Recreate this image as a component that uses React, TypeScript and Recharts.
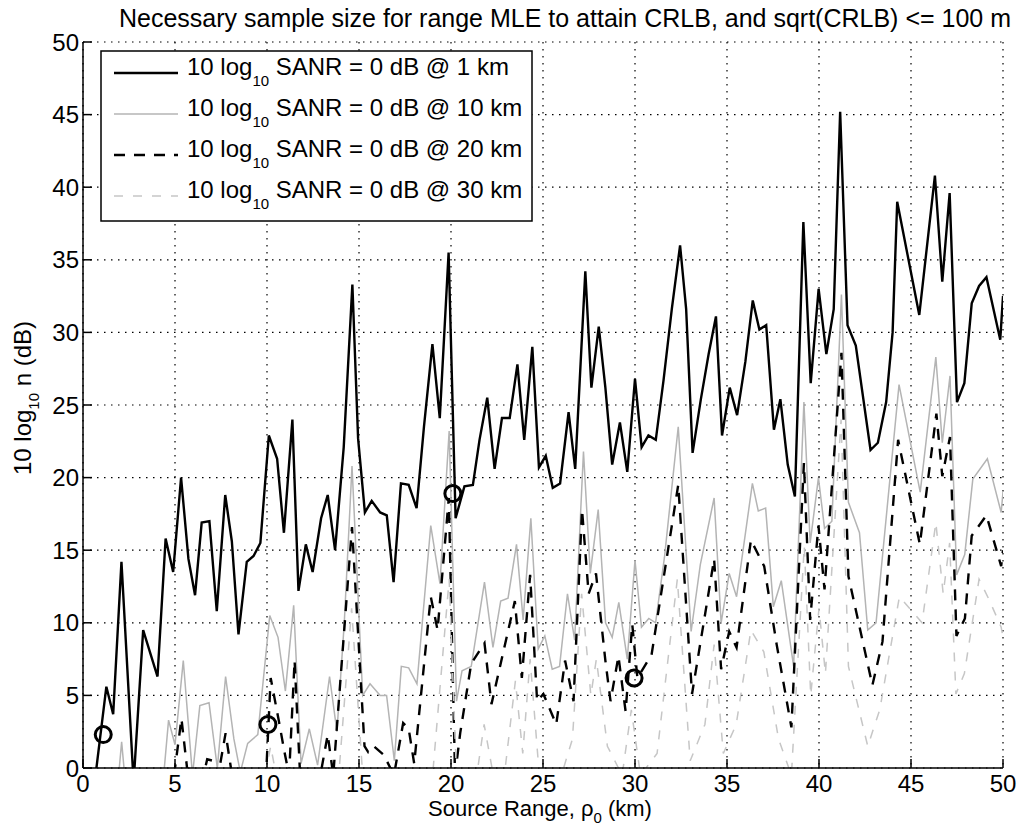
import React from "react";
import { ComposedChart, Line, Scatter, XAxis, YAxis, CartesianGrid } from "recharts";

const FONT = '"Liberation Sans", Arial, Helvetica, sans-serif';

const X_TICKS = [0, 5, 10, 15, 20, 25, 30, 35, 40, 45, 50];
const Y_TICKS = [0, 5, 10, 15, 20, 25, 30, 35, 40, 45, 50];

// SANR = 0 dB @ 1 km
const RANGE_1KM = [
  0.7, 1.27, 1.64, 2.09, 2.75, 3.27, 4.05, 4.49, 4.9, 5.33,
  5.73, 6.09, 6.45, 6.87, 7.27, 7.73, 8.09, 8.45, 8.9, 9.27,
  9.64, 10.1, 10.55, 10.92, 11.38, 11.71, 12.11, 12.48, 12.94, 13.3,
  13.7, 14.17, 14.64, 14.95, 15.32, 15.69, 16.15, 16.51, 16.88, 17.28,
  17.7, 18.13, 18.53, 18.99, 19.39, 19.87, 20.25, 20.73, 21.19, 21.55,
  21.97, 22.37, 22.77, 23.19, 23.61, 23.98, 24.42, 24.78, 25.15, 25.53,
  25.93, 26.39, 26.75, 27.3, 27.63, 28.03, 28.39, 28.76, 29.18, 29.58,
  30, 30.36, 30.73, 31.13, 31.55, 32, 32.45, 32.78, 33.13, 33.58,
  34, 34.4, 34.73, 35.15, 35.55, 36, 36.4, 36.76, 37.13, 37.55,
  37.9, 38.3, 38.69, 39.15, 39.55, 39.98, 40.4, 40.8, 41.15, 41.55,
  42.0, 42.8, 43.2, 43.65, 44.0, 44.25, 45.45, 46.3, 46.7, 47.1,
  47.5, 47.9, 48.3, 48.7, 49.1, 49.85, 50,
];
const DB_1KM = [
  -0.3, 5.6, 3.7, 14.2, -1, 9.5, 6.3, 15.8, 13.5, 20,
  14.4, 11.9, 16.9, 17, 10.8, 18.8, 15.6, 9.2, 14.2, 14.6,
  15.5, 22.9, 21.3, 16.2, 24, 12.2, 15.4, 13.5, 17.2, 18.8,
  15, 22.1, 33.3, 22.7, 17.6, 18.4, 17.6, 17.4, 12.8, 19.6,
  19.5, 17.9, 23.5, 29.2, 24.1, 35.5, 17.2, 19.4, 19.5, 22.6,
  25.5, 20.6, 24.1, 24.1, 27.8, 22.6, 29, 20.7, 21.5, 19.3,
  19.6, 24.5, 20.6, 34.2, 26.2, 30.4, 26.2, 20.9, 23.8, 20.4,
  26.8, 22.1, 22.9, 22.6, 26.7, 31.6, 36, 31.6, 21.7, 25.4,
  28.5, 31.1, 22.9, 26.2, 24.3, 28, 32.2, 30.2, 30.5, 23.3,
  25.4, 20.9, 18.7, 37.6, 26.5, 33, 28.5, 31.6, 45.2, 30.5,
  29.1, 21.9, 22.4, 25.2, 30, 39, 31.2, 40.8, 33.5, 39.6,
  25.2, 26.5, 32, 33.2, 33.8, 29.5, 32.5,
];

// SANR = 0 dB @ 10 km
const RANGE_10KM = [
  1.9, 2.1, 2.3, 4.35, 4.65, 5.0, 5.45, 5.95, 6.35, 6.85,
  7.3, 7.75, 8.2, 8.55, 8.95, 9.5, 10.15, 10.6, 11.0, 11.45,
  11.85, 12.3, 12.75, 13.4, 13.8, 14.2, 14.62, 15.2, 15.6, 16.15,
  16.5, 16.92, 17.3, 17.7, 18.15, 18.9, 19.4, 19.9, 20.3, 20.6,
  21.1, 21.82, 22.28, 22.7, 23.1, 23.56, 23.92, 24.34, 24.74, 25.1,
  25.5, 25.9, 26.33, 26.72, 27.2, 27.57, 28.0, 28.4, 28.76, 29.12,
  29.58, 30.0, 30.35, 30.75, 31.12, 31.6, 32.35, 33.05, 33.55, 34.3,
  34.68, 35.12, 35.52, 36.38, 36.7, 37.1, 37.52, 37.95, 38.62, 39.18,
  39.52, 39.97, 40.3, 40.7, 41.22, 41.6, 42.2, 42.65, 43.1, 44.35,
  45.5, 46.35, 46.7, 47.12, 47.48, 47.92, 48.36, 49.15, 49.9, 50,
];
const DB_10KM = [
  -1, 1.8, -1, -1, 3.3, 1.6, 7.4, -0.5, 4.3, 4.5,
  0, 6.3, 2, -0.3, 1.7, 2.3, 10.5, 9, 5.3, 11.2,
  0.3, 2.7, 0.2, 6.3, 2.5, 10, 20.8, 5, 5.8, 5,
  5, 0.5, 7, 6.9, 5.8, 16.7, 12.7, 23.2, 4.6, 6.7,
  7, 12.8, 8.3, 11.5, 11.7, 15.4, 10.2, 17.2, 8.2, 9.1,
  6.8, 7, 12, 8.8, 21.8, 13.4, 17.8, 10, 9, 11.4,
  7.5, 14.3, 9.7, 10.3, 10, 14.5, 23.5, 9.4, 14, 18.6,
  10, 13.4, 11.8, 19.6, 17.7, 17.9, 11.1, 12.9, 7, 25.2,
  15.5, 20, 16.5, 17, 32.6, 18.3, 16.2, 9.5, 10, 26.4,
  19, 28.3, 22.4, 27, 13.3, 14.7, 19.9, 21.3, 17.6, 19,
];

// SANR = 0 dB @ 20 km
const RANGE_20KM = [
  4.95, 5.35, 5.7, 6.55, 6.75, 7.05, 7.35, 7.75, 8.1, 9.95,
  10.2, 10.65, 10.95, 11.2, 11.5, 11.8, 12.9, 13.3, 13.6, 14.62,
  15.3, 15.5, 15.8, 16.35, 16.9, 17.4, 17.7, 18.0, 18.9, 19.27,
  19.88, 20.22, 20.5, 21.1, 21.82, 22.2, 23.47, 23.85, 24.3, 24.68,
  25.02, 25.72, 26.2, 26.66, 27.12, 27.48, 27.88, 28.39, 28.67, 29.1,
  29.49, 29.85, 30.13, 30.9, 32.35, 33.1, 34.3, 34.68, 35.12, 35.52,
  36.3, 37.02, 37.7, 38.5, 39.18, 39.52, 39.97, 40.3, 41.22, 41.6,
  42.9, 43.45, 44.3, 45.48, 46.38, 46.7, 47.12, 47.47, 47.93, 48.3,
  49.1, 49.9, 50,
];
const DB_20KM = [
  -0.5, 3.4, -0.5, -0.5, 0.6, 0.5, -0.5, 2.4, -0.5, -0.5,
  6.2, 3.2, 1.1, -0.5, 7.4, -0.5, -0.5, 2.3, -0.5, 16.6,
  1.5, 1.1, 1.5, 0.9, -0.5, 3.1, 2.7, 0.3, 11.8, 9.5,
  18.6, -0.5, 2.4, 7.2, 8.6, 4.4, 11.5, 6.2, 13.3, 4.6,
  5.1, 3, 7.4, 4.6, 17.8, 12, 13.4, 7.4, 4.6, 7.7,
  3.9, 9.9, 6.2, 7.8, 19.5, 5.1, 14.4, 6.8, 9.4, 8.3,
  15.7, 13.9, 8.5, 2.8, 21, 10.2, 16.7, 12.3, 28.6, 13.2,
  5.7, 8.7, 22.6, 15.4, 24.4, 20.1, 22.8, 9.1, 10.3, 16,
  17.4, 13.9, 15,
];

// SANR = 0 dB @ 30 km
const RANGE_30KM = [
  9.9, 10.2, 10.5, 13.9, 14.6, 15.2, 19.0, 19.9, 20.3, 21.4,
  21.8, 22.3, 22.9, 23.5, 23.9, 24.3, 24.8, 26.0, 26.6, 27.1,
  27.6, 27.9, 28.5, 29.3, 29.8, 30.3, 31.2, 32.3, 33.0, 33.8,
  34.3, 34.8, 35.5, 36.3, 37.0, 37.8, 38.5, 39.2, 39.55, 40.0,
  40.35, 41.2, 41.6, 42.65, 43.3, 44.37, 45.6, 46.35, 46.75, 47.1,
  47.44, 47.9, 48.7, 49.24, 49.9, 50,
];
const DB_30KM = [
  -0.5, 1.5, -0.5, -0.5, 11, -0.5, -0.5, 13, -0.5, -0.5,
  3, -0.5, -0.5, 6, 1, 7.5, -0.5, -0.5, 2, 12,
  5, 7.5, 1.5, -0.5, 4, -0.5, 1, 13, 0.5, 3,
  8.5, 1, 3, 9.5, 8, 2, -0.5, 15.3, 5, 11,
  6.5, 24, 7, 1.5, 4, 11.8, 10, 16.9, 12, 15.5,
  5.1, 6.5, 13, 11.6, 9.7, 9,
];

// circled points
const MARK_RANGE = [1.1, 10.05, 20.1, 29.95];
const MARK_DB = [2.3, 3.0, 18.9, 6.2];

const LEGEND_DIST = ["1 km", "10 km", "20 km", "30 km"];

const zip = (xs: number[], ys: number[]) => xs.map((x, i) => ({ x, y: ys[i] }));

const SERIES = [
  { name: LEGEND_DIST[0], data: zip(RANGE_1KM, DB_1KM), stroke: "#000", width: 2.4, dash: undefined },
  { name: LEGEND_DIST[1], data: zip(RANGE_10KM, DB_10KM), stroke: "#b4b4b4", width: 1.5, dash: undefined },
  { name: LEGEND_DIST[2], data: zip(RANGE_20KM, DB_20KM), stroke: "#000", width: 2.4, dash: "11 9" },
  { name: LEGEND_DIST[3], data: zip(RANGE_30KM, DB_30KM), stroke: "#c6c6c6", width: 1.5, dash: "9 10" },
];

const tickStyle = { fill: "#000", fontSize: 24, fontFamily: FONT };

const Ring = (props: any) => (
  <circle cx={props.cx} cy={props.cy} r={8} fill="none" stroke="#000" strokeWidth={3} />
);

function Overlay() {
  const rowY = [73, 114, 155, 196];
  return (
    <svg
      width={1018}
      height={833}
      style={{ position: "absolute", left: 0, top: 0, pointerEvents: "none" }}
      fontFamily={FONT}
    >
      <text x={565} y={27} textAnchor="middle" fontSize={25} fill="#000">
        Necessary sample size for range MLE to attain CRLB, and sqrt(CRLB) &lt;= 100 m
      </text>

      <text x={540} y={816} textAnchor="middle" fontSize={22} fill="#000">
        Source Range, ρ<tspan fontSize={15} dy={7}>0</tspan>
        <tspan dy={-7}> (km)</tspan>
      </text>

      <text
        transform="translate(31 398) rotate(-90)"
        textAnchor="middle"
        fontSize={24}
        fill="#000"
      >
        10 log<tspan fontSize={15} dy={8}>10</tspan>
        <tspan dy={-8}> n (dB)</tspan>
      </text>

      <rect x={101} y={51} width={431} height={170} fill="#fff" stroke="#000" strokeWidth={1.5} />
      {SERIES.map((s, i) => (
        <g key={s.name}>
          <line
            x1={114}
            x2={178}
            y1={rowY[i]}
            y2={rowY[i]}
            stroke={s.stroke}
            strokeWidth={s.width}
            strokeDasharray={s.dash}
          />
          <text x={187} y={rowY[i] + 2} fontSize={24} fill="#000">
            10 log<tspan fontSize={15} dy={11}>10</tspan>
            <tspan dy={-11}> SANR = 0 dB @ {s.name}</tspan>
          </text>
        </g>
      ))}
    </svg>
  );
}

export default function App() {
  return (
    <div style={{ position: "absolute", left: 0, top: 0, width: 1018, height: 833, background: "#fff" }}>
      <ComposedChart width={1018} height={833} margin={{ top: 42, right: 15, bottom: 25, left: 43 }}>
        <CartesianGrid stroke="#000" strokeWidth={1.2} strokeDasharray="1.5 5.5" />
        <XAxis
          type="number"
          dataKey="x"
          domain={[0, 50]}
          ticks={X_TICKS}
          allowDataOverflow
          height={40}
          stroke="#000"
          strokeWidth={1.5}
          tickSize={-9}
          tickMargin={16}
          tick={tickStyle}
        />
        <XAxis
          xAxisId="top"
          orientation="top"
          type="number"
          domain={[0, 50]}
          ticks={X_TICKS}
          allowDataOverflow
          height={0}
          stroke="#000"
          strokeWidth={1.5}
          tickSize={-9}
          tickFormatter={() => ""}
        />
        <YAxis
          type="number"
          dataKey="y"
          domain={[0, 50]}
          ticks={Y_TICKS}
          allowDataOverflow
          width={40}
          stroke="#000"
          strokeWidth={1.5}
          tickSize={-9}
          tickMargin={13}
          tick={tickStyle}
        />
        <YAxis
          yAxisId="right"
          orientation="right"
          type="number"
          domain={[0, 50]}
          ticks={Y_TICKS}
          allowDataOverflow
          width={0}
          stroke="#000"
          strokeWidth={1.5}
          tickSize={-9}
          tickFormatter={() => ""}
        />
        {SERIES.map((s) => (
          <Line
            key={s.name}
            data={s.data}
            dataKey="y"
            type="linear"
            stroke={s.stroke}
            strokeWidth={s.width}
            strokeDasharray={s.dash}
            dot={false}
            activeDot={false}
            isAnimationActive={false}
          />
        ))}
        <Scatter data={zip(MARK_RANGE, MARK_DB)} dataKey="y" shape={Ring} isAnimationActive={false} />
      </ComposedChart>
      <Overlay />
    </div>
  );
}
